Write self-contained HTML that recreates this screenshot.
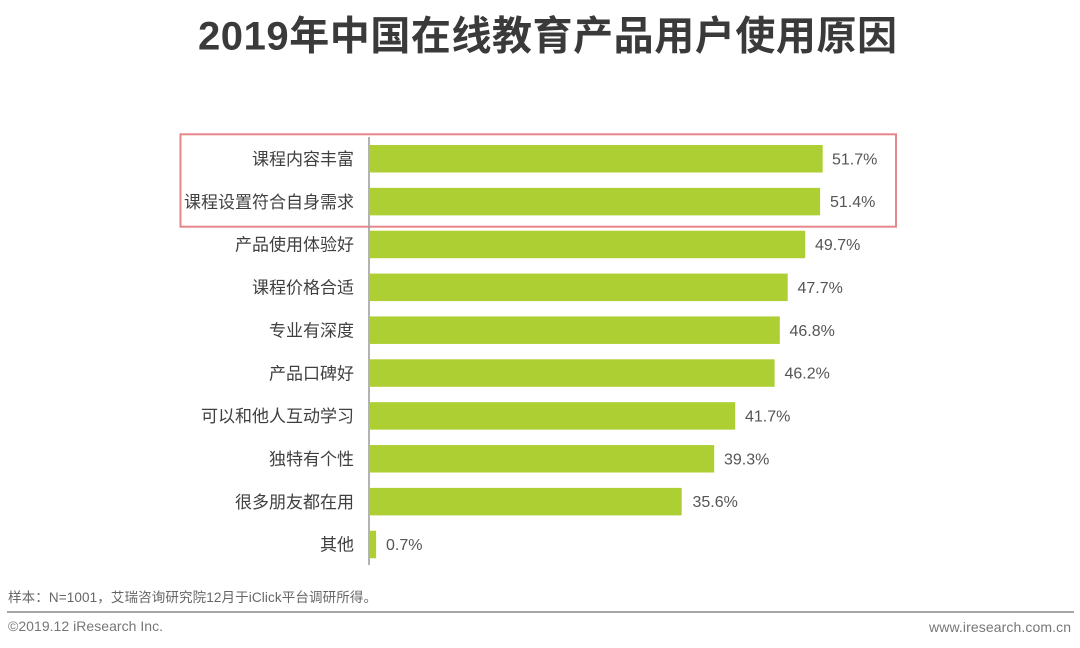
<!DOCTYPE html>
<html>
<head>
<meta charset="utf-8">
<style>
html,body{margin:0;padding:0;background:#fff;}
svg{display:block;}
.t{font-family:"Liberation Sans","Noto Sans CJK SC",sans-serif;}
</style>
</head>
<body>
<svg width="1080" height="648" viewBox="0 0 1080 648" xmlns="http://www.w3.org/2000/svg">
<rect width="1080" height="648" fill="#fff"/>
<text class="t" x="198" y="49.5" font-size="40" font-weight="bold" fill="#3a3a3a" textLength="699" lengthAdjust="spacing">2019年中国在线教育产品用户使用原因</text>

<!-- highlight box -->
<rect x="180.5" y="134.3" width="715.5" height="92.4" fill="none" stroke="#e8868e" stroke-width="2"/>

<!-- bars -->
<g fill="#aecf34">
<rect x="370" y="145" width="452.7" height="27.5"/>
<rect x="370" y="187.86" width="450.1" height="27.5"/>
<rect x="370" y="230.72" width="435.2" height="27.5"/>
<rect x="370" y="273.58" width="417.7" height="27.5"/>
<rect x="370" y="316.44" width="409.8" height="27.5"/>
<rect x="370" y="359.3" width="404.6" height="27.5"/>
<rect x="370" y="402.16" width="365.2" height="27.5"/>
<rect x="370" y="445.02" width="344.2" height="27.5"/>
<rect x="370" y="487.88" width="311.7" height="27.5"/>
<rect x="370" y="530.74" width="6.1" height="27.5"/>
</g>

<!-- axis -->
<line x1="369" y1="137" x2="369" y2="565" stroke="#9a9a9a" stroke-width="1.5"/>

<!-- labels -->
<g class="t" font-size="17" fill="#404040" text-anchor="end">
<text x="354" y="165">课程内容丰富</text>
<text x="354" y="207.9">课程设置符合自身需求</text>
<text x="354" y="250.7">产品使用体验好</text>
<text x="354" y="293.6">课程价格合适</text>
<text x="354" y="336.4">专业有深度</text>
<text x="354" y="379.3">产品口碑好</text>
<text x="354" y="422.2">可以和他人互动学习</text>
<text x="354" y="465">独特有个性</text>
<text x="354" y="507.9">很多朋友都在用</text>
<text x="354" y="550.7">其他</text>
</g>

<!-- values -->
<g class="t" font-size="16" fill="#555555">
<text x="832" y="164.4">51.7%</text>
<text x="830" y="207.2">51.4%</text>
<text x="815" y="250.1">49.7%</text>
<text x="797.5" y="292.9">47.7%</text>
<text x="789.5" y="335.8">46.8%</text>
<text x="784.5" y="378.6">46.2%</text>
<text x="745" y="421.5">41.7%</text>
<text x="724" y="464.4">39.3%</text>
<text x="692.5" y="507.2">35.6%</text>
<text x="386" y="550.1">0.7%</text>
</g>

<!-- footer -->
<text class="t" x="8" y="602" font-size="13.5" fill="#666" textLength="369" lengthAdjust="spacing">样本：N=1001，艾瑞咨询研究院12月于iClick平台调研所得。</text>
<line x1="7" y1="612" x2="1074" y2="612" stroke="#8a8a8a" stroke-width="1.5"/>
<text class="t" x="8" y="631" font-size="14" fill="#777" textLength="155" lengthAdjust="spacing">©2019.12 iResearch Inc.</text>
<text class="t" x="929" y="632" font-size="14" fill="#777" textLength="142" lengthAdjust="spacing">www.iresearch.com.cn</text>
</svg>
</body>
</html>
